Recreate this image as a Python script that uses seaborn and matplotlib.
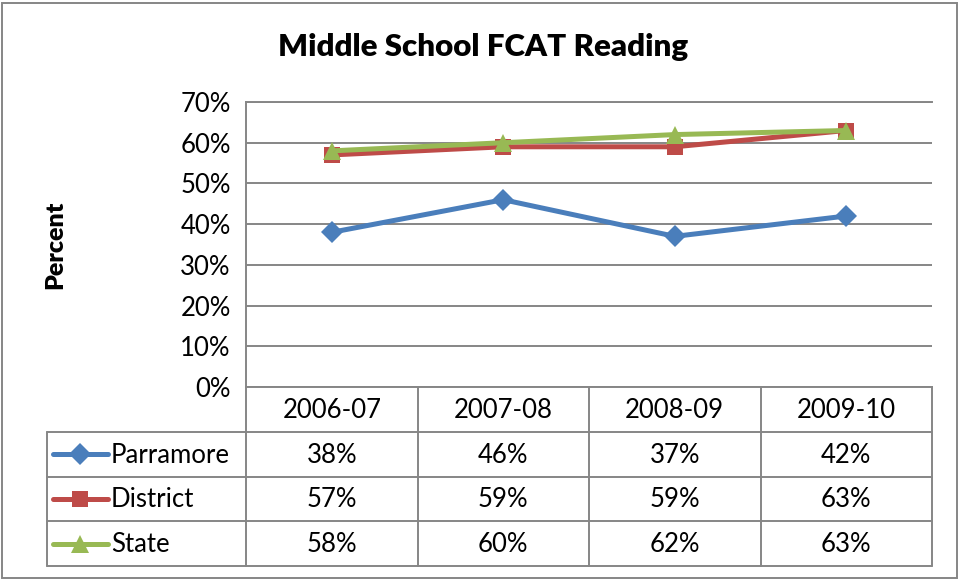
import numpy as np
import pandas as pd
import matplotlib
matplotlib.use("Agg")
import matplotlib.pyplot as plt
from matplotlib.lines import Line2D
from matplotlib.patches import Rectangle
import seaborn as sns

# data
years = ["2006-07", "2007-08", "2008-09", "2009-10"]
parramore = [38, 46, 37, 42]
district = [57, 59, 59, 63]
state = [58, 60, 62, 63]
series_names = ["Parramore", "District", "State"]
colors = ["#4A7EBB", "#BE4B48", "#98B954"]
markers = ["D", "s", "^"]
marker_sizes = [11.5, 11, 13]

sns.set_theme(style="white")
plt.rcParams["font.family"] = ["Lato", "DejaVu Sans"]
plt.rcParams["text.color"] = "black"
plt.rcParams["ytick.color"] = "black"

W, H = 961, 580
GRID = "#868686"
FS = 18.5

fig = plt.figure(figsize=(W / 100, H / 100), dpi=100)


def px_box(x0, y0, x1, y1):
    return [x0 / W, 1 - y1 / H, (x1 - x0) / W, (y1 - y0) / H]


# long-form frame
df = pd.DataFrame({
    "x": np.tile(np.arange(len(years)), 3),
    "value": parramore + district + state,
    "series": np.repeat(series_names, len(years)),
})

ax = fig.add_axes(px_box(246, 102, 932, 387))
for name, c, m, ms in zip(series_names, colors, markers, marker_sizes):
    sub = df[df["series"] == name]
    sns.lineplot(data=sub, x="x", y="value", color=c, marker=m, markersize=ms,
                 markeredgewidth=0, linewidth=3.6, ax=ax, legend=False)

ax.set_xlim(-0.5, len(years) - 0.5)
ax.set_ylim(0, 70)
ax.set_yticks(range(0, 71, 10))
ax.set_yticklabels([f"{v}%" for v in range(0, 71, 10)], fontsize=FS, color="black")
ax.set_xticks([])
ax.set_xlabel("")
ax.set_ylabel("")
ax.yaxis.grid(True, color=GRID, linewidth=1.4)
ax.set_axisbelow(True)
for s in ["left", "bottom", "top"]:
    ax.spines[s].set_color(GRID)
    ax.spines[s].set_linewidth(1.4)
ax.spines["right"].set_visible(False)
ax.tick_params(axis="y", length=5, color=GRID, width=1.4, pad=6)

# data table below the plot
tax = fig.add_axes(px_box(246, 387, 932, 566))
tax.set_xlim(-0.5, len(years) - 0.5)
tax.set_ylim(4, 0)
tax.axis("off")
unit = (932 - 246) / len(years)


def px2x(px):
    return -0.5 + (px - 246) / unit


lx = px2x(47)
lkw = dict(color=GRID, linewidth=1.4, clip_on=False)
for r in range(1, 5):
    tax.plot([lx, len(years) - 0.5], [r, r], **lkw)
for c in np.arange(-0.5, len(years), 1.0):
    tax.plot([c, c], [0, 4], **lkw)
tax.plot([lx, lx], [1, 4], **lkw)

for i, yr in enumerate(years):
    tax.text(i, 0.52, yr, ha="center", va="center", fontsize=FS)

table_vals = [parramore, district, state]
for r, (name, vals, c, m, ms) in enumerate(zip(series_names, table_vals, colors, markers, marker_sizes)):
    yy = r + 1.5
    tax.add_line(Line2D([px2x(53), px2x(108)], [yy, yy], color=c, linewidth=3.6,
                        solid_capstyle="round", clip_on=False))
    tax.add_line(Line2D([px2x(80.5)], [yy], color=c, marker=m, markersize=ms,
                        markeredgewidth=0, linestyle="none", clip_on=False))
    tax.text(px2x(111), yy + 0.02, name, ha="left", va="center", fontsize=FS)
    for i, v in enumerate(vals):
        tax.text(i, yy + 0.02, f"{v}%", ha="center", va="center", fontsize=FS)

fig.text(483 / W, 1 - 47 / H, "Middle School FCAT Reading", ha="center", va="center",
         fontsize=22.5, fontweight="heavy")
fig.text(55 / W, 1 - 245 / H, "Percent", ha="center", va="center", rotation=90,
         fontsize=18, fontweight="heavy")

fig.patches.append(Rectangle((2 / W, 2 / H), 955 / W, 575 / H, transform=fig.transFigure,
                             fill=False, edgecolor=GRID, linewidth=1.4))

fig.savefig("out.png", dpi=100)
